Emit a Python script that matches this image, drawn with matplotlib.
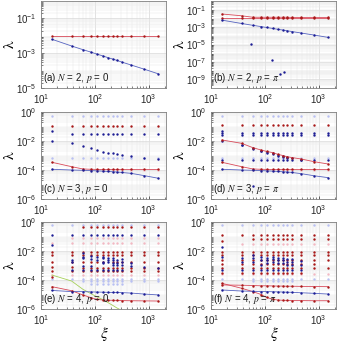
import numpy as np
import matplotlib
matplotlib.use("Agg")
import matplotlib.pyplot as plt
from matplotlib.ticker import LogLocator, NullFormatter

plt.rcParams['font.family'] = ['Liberation Sans', 'DejaVu Sans']
plt.rcParams['mathtext.fontset'] = 'stix'

nan = np.nan
xi = [16, 37, 60, 85, 108, 140, 174, 215, 255, 316, 471, 832, 1514]

# ---------- panel (a) N=2, p=0 ----------
a_red = [1.0e-2, 1.0e-2, 1.0e-2, 1.0e-2, 1.0e-2, 1.0e-2, 1.0e-2, 1.0e-2, 1.0e-2, 1.0e-2, 1.0e-2, 1.0e-2, 1.0e-2]
a_blue = [6.3e-3, 2.6e-3, 1.6e-3, 1.15e-3, 9.0e-4, 7.0e-4, 5.6e-4, 4.6e-4, 3.9e-4, 3.1e-4, 2.1e-4, 1.2e-4, 6.5e-5]

# ---------- panel (b) N=2, p=pi ----------
b_red1 = [3.2e-2, 2.0e-2, 1.35e-2, 1.35e-2, 1.35e-2, 1.35e-2, 1.35e-2, 1.35e-2, 1.35e-2, 1.3e-2, 1.3e-2, 1.3e-2, 1.3e-2]
b_red2 = [1.0e-2, 1.0e-2, 1.0e-2, 1.0e-2, 1.0e-2, 1.0e-2, 1.0e-2, 1.0e-2, 1.0e-2, 1.0e-2, 1.0e-2, 1.0e-2, 1.0e-2]
b_blue = [6.3e-3, 2.6e-3, 1.6e-3, 1.15e-3, 9.0e-4, 7.0e-4, 5.6e-4, 4.6e-4, 3.9e-4, 3.1e-4, 2.1e-4, 1.2e-4, 6.5e-5]
b_out_x = [55, 135, 191, 228]
b_out_y = [1.2e-5, 1.6e-7, 4.0e-9, 7.5e-9]

# ---------- panel (c) N=3, p=0 (log10 values) ----------
c_light = [[-0.28] * 13, [-3.2] * 13]
c_pink = [[nan, nan, -4.02, -4.02, -4.02, -4.02, -4.02, -4.02, -4.02, -4.02, -4.02, -4.02, -4.02]]
c_red = [[-0.94] * 13]
c_blue = [[-1.31, -1.54, -1.54, -1.54, -1.54, -1.54, -1.54, -1.54, -1.54, -1.54, -1.54, -1.54, -1.54],
          [-1.98, -2.16, -2.34, -2.5, -2.62, -2.73, -2.8, -2.85, -2.9, -2.97, -3.03, -3.2, -3.26]]
c_red_line = [-3.47, -3.77, -3.93, -3.95, -3.96, -3.96, -3.96, -3.96, -3.96, -3.96, -3.96, -3.96, -3.96]
c_blue_line = [-3.95, -4.0, -4.02, -4.04, -4.06, -4.08, -4.1, -4.12, -4.14, -4.17, -4.23, -4.39, -4.57]

# ---------- panel (d) N=3, p=pi ----------
d_light = [[-0.28] * 13, [-3.15] * 13]
d_pink = [[nan, nan, -4.02, -4.02, -4.02, -4.02, -4.02, -4.02, -4.02, -4.02, -4.02, -4.02, -4.02]]
d_red = [[-0.93] * 13]
d_blue = [[-1.29, -1.47, -1.47, -1.47, -1.47, -1.47, -1.47, -1.47, -1.47, -1.47, -1.47, -1.47, -1.47],
          [-1.43, -1.61, -1.61, -1.61, -1.61, -1.61, -1.61, -1.61, -1.61, -1.61, -1.61, -1.61, -1.61],
          [-1.61, nan, nan, nan, nan, nan, nan, nan, nan, nan, nan, nan, nan],
          [-2.02, -2.25, -2.5, -2.66, -2.76, -2.85, -2.95, -3.03, -3.1, -3.17, -3.28, nan, nan],
          [nan, -2.3, -2.58, -2.72, -2.83, -2.9, -3.0, -3.08, -3.15, nan, nan, nan, nan],
          [-3.3, -3.3, -3.3, -3.3, -3.3, -3.3, -3.3, -3.3, -3.3, -3.3, -3.3, -3.3, -3.3],
          [nan, nan, -5.1, nan, nan, nan, nan, nan, nan, nan, nan, nan, nan]]
d_red_line_up = [-1.93, -2.16, -2.46, -2.62, -2.72, -2.8, -2.92, -3.0, -3.08, -3.14, -3.24, -3.43, -3.59]
d_red_line = [-3.47, -3.77, -3.93, -3.95, -3.96, -3.96, -3.96, -3.96, -3.96, -3.96, -3.96, -3.96, -3.96]
d_blue_line = [-3.95, -4.0, -4.02, -4.04, -4.06, -4.08, -4.1, -4.12, -4.14, -4.17, -4.25, -4.4, -4.53]

# ---------- panel (e) N=4, p=0 ----------
e_light = [[-0.2] * 13,
           [-3.9] * 13,
           [nan, nan, -4.1, -4.1, -4.1, -4.1, -4.1, -4.1, -4.1, -4.1, -4.1, -4.1, -4.1],
           [nan, nan, nan, -4.3, -4.3, -4.3, -4.3, -4.3, -4.3, -4.3, nan, nan, nan]]
e_pink = [[-1.47] * 13, [-3.66] * 13, [nan, -1.1, -1.1, -1.1, -1.1, -1.1, -1.1, -1.1, -1.1, -1.1, -1.1, -1.1, -1.1]]
e_red = [[nan, nan, -0.32, -0.32, -0.32, -0.32, -0.32, -0.32, -0.32, -0.32, -0.32, -0.32, -0.32],
         [-2.05] * 13,
         [-2.28] * 13,
         [-2.74, -2.74, -2.74, -2.74, -2.74, -2.74, nan, -2.74, -2.74, -2.74, -2.74, -2.74, -2.74],
         [-3.08, -3.08, -3.15, -3.15, -3.15, -3.15, -3.15, -3.15, -3.15, -3.15, -3.15, -3.15, -3.15],
         [-3.4] * 13,
         [-3.77, nan, nan, nan, nan, nan, nan, nan, nan, nan, nan, nan, nan]]
e_blue = [[-0.9] * 13,
          [-1.59, -2.62, -2.16, -2.34, -2.44, -2.39, -2.51, -2.51, -2.62, -2.57, -2.85, -3.08, -3.2],
          [nan, -2.74, -2.39, -2.57, -2.62, -2.51, -2.62, -2.62, -2.8, -2.74, -3.01, nan, nan],
          [nan, nan, -2.51, -3.0, nan, -2.74, -2.78, -2.85, -2.97, -2.97, nan, nan, nan],
          [nan, nan, -3.0, nan, nan, -2.85, nan, -2.97, nan, nan, nan, nan, nan],
          [nan, -3.3, -3.3, -3.3, -3.3, -3.3, -3.3, -3.3, -3.3, -3.3, nan, nan, nan]]
e_green_line = [-3.66, -4.07, -4.64, -4.95, -5.15, -5.35, -5.55, -5.75, -5.92, -6.1, -6.5, -7.0, -7.5]
e_red_line = [-4.46, -4.74, -5.03, -5.22, -5.33, -5.38, -5.4, -5.4, -5.41, -5.42, -5.43, -5.44, -5.45]
e_blue_line = [-4.72, -4.8, -4.8, -4.82, -4.83, -4.84, -4.85, -4.86, -4.86, -4.87, -4.9, -4.97, -5.03]

# ---------- panel (f) N=4, p=pi ----------
f_light = [[-0.2] * 13,
           [-3.9] * 13,
           [nan, nan, -4.05, -4.05, -4.05, -4.05, -4.05, -4.05, -4.05, -4.05, nan, nan, nan]]
f_pink = [[nan, -1.5, -1.5, -1.5, -1.5, -1.5, -1.5, -1.5, -1.5, -1.5, -1.5, -1.5, -1.5],
          [-3.6] * 13]
f_red = [[-0.9] * 13,
         [-1.3, nan, -1.2, -1.2, -1.2, -1.2, -1.2, -1.2, -1.2, -1.2, -1.2, -1.2, -1.2],
         [-2.05] * 13,
         [-2.28] * 13,
         [-2.6] * 13,
         [-2.9, -2.9, -2.9, -2.9, -2.9, -2.9, -2.9, -2.9, -2.9, -2.9, -2.9, -2.9, nan],
         [-3.15] * 13,
         [-3.5, -3.5, -3.5, -3.5, -3.5, -3.5, -3.5, -3.5, -3.5, -3.5, -3.5, nan, nan]]
f_blue = [[-1.7, nan, nan, nan, nan, nan, nan, nan, nan, nan, nan, nan, nan],
          [-2.4, -2.45, -2.3, -2.4, -2.45, -2.4, -2.5, -2.5, -2.55, -2.55, -2.7, nan, nan],
          [nan, -2.75, -2.5, -2.6, -2.65, -2.55, -2.65, -2.65, -2.75, -2.75, -2.95, nan, nan],
          [nan, nan, -2.75, -2.95, -2.8, -2.75, -2.8, -2.85, -2.95, -2.95, nan, nan, nan],
          [-3.3, -3.3, -3.3, -3.3, -3.3, -3.3, -3.3, -3.3, -3.3, -3.3, -3.3, nan, nan]]
f_red_line_up = [-4.34, -4.36, -4.38, -4.4, -4.4, -4.41, -4.42, -4.42, -4.43, -4.43, -4.44, -4.45, -4.46]
f_red_line = [-4.23, -4.57, -4.8, -5.0, -5.2, -5.33, -5.38, -5.4, -5.41, -5.42, -5.42, -5.43, -5.43]
f_blue_line = [-4.69, -4.76, -4.78, -4.8, -4.8, -4.81, -4.82, -4.83, -4.84, -4.85, -4.88, -4.92, -4.97]

labels = ["(a) $N$ = 2, $p$ = 0", "(b) $N$ = 2, $p$ = $\\pi$",
          "(c) $N$ = 3, $p$ = 0", "(d) $N$ = 3, $p$ = $\\pi$",
          "(e) $N$ = 4, $p$ = 0", "(f) $N$ = 4, $p$ = $\\pi$"]

DRED = '#a81818'
DBLUE = '#1c1c94'
LBLUE = '#b8bff2'
PINK = '#f2b8c2'
LRED = '#d84a5a'
LBLU = '#5563c0'
GREEN = '#a6d05a'

fig = plt.figure(figsize=(3.4, 3.45), dpi=100)
W, H = 340.0, 345.0
lefts = [41, 211]
tops = [1, 112, 222]
aw, ah = 125, 87
axes = []
for r in range(3):
    for c in range(2):
        ax = fig.add_axes([lefts[c] / W, 1 - (tops[r] + ah) / H, aw / W, ah / H])
        axes.append(ax)


def dots(ax, rows, color, s=3.0, z=2):
    for row in rows:
        y = np.power(10.0, np.array(row, dtype=float))
        ax.scatter(xi, y, s=s, c=color, linewidths=0, zorder=z)


def line(ax, vals, color, marker=True, z=3, lw=0.6, log=True):
    y = np.power(10.0, np.array(vals, dtype=float)) if log else np.array(vals)
    ax.plot(xi, y, color=color, lw=lw, zorder=z)
    if marker:
        ax.scatter(xi, y, s=3.0, c=DRED if color == LRED else DBLUE, linewidths=0, zorder=z + 0.1)


# (a)
ax = axes[0]
line(ax, a_red, LRED, log=False)
line(ax, a_blue, LBLU, log=False)
# (b)
ax = axes[1]
line(ax, b_red1, LRED, log=False)
line(ax, b_red2, LRED, log=False)
line(ax, b_blue, LBLU, log=False)
ax.scatter(b_out_x, b_out_y, s=3.0, c=DBLUE, linewidths=0, zorder=3)
# (c)
ax = axes[2]
dots(ax, c_light, LBLUE); dots(ax, c_pink, PINK)
dots(ax, c_red, DRED); dots(ax, c_blue, DBLUE)
line(ax, c_red_line, LRED); line(ax, c_blue_line, LBLU)
# (d)
ax = axes[3]
dots(ax, d_light, LBLUE); dots(ax, d_pink, PINK)
dots(ax, d_red, DRED); dots(ax, d_blue, DBLUE)
line(ax, d_red_line_up, LRED); line(ax, d_red_line, LRED); line(ax, d_blue_line, LBLU)
# (e)
ax = axes[4]
dots(ax, e_light, LBLUE); dots(ax, e_pink, PINK)
dots(ax, e_red, DRED); dots(ax, e_blue, DBLUE)
line(ax, e_green_line, GREEN, marker=False)
line(ax, e_red_line, LRED); line(ax, e_blue_line, LBLU)
# (f)
ax = axes[5]
dots(ax, f_light, LBLUE); dots(ax, f_pink, PINK)
dots(ax, f_red, DRED); dots(ax, f_blue, DBLUE)
line(ax, f_red_line_up, LRED); line(ax, f_red_line, LRED); line(ax, f_blue_line, LBLU)

ylims = [(1e-5, 1), (1e-10, 1), (1e-6, 1), (1e-6, 1), (1e-6, 1), (1e-6, 1)]
yticks = [[1e-5, 1e-3, 1e-1], [1e-9, 1e-7, 1e-5, 1e-3, 1e-1],
          [1e-6, 1e-4, 1e-2, 1], [1e-6, 1e-4, 1e-2, 1], [1e-6, 1e-4, 1e-2, 1], [1e-6, 1e-4, 1e-2, 1]]

for i, ax in enumerate(axes):
    ax.set_xscale('log')
    ax.set_yscale('log')
    ax.set_xlim(10, 2100)
    ax.set_ylim(*ylims[i])
    ax.set_xticks([10, 100, 1000])
    ax.set_yticks(yticks[i])
    ax.xaxis.set_minor_locator(LogLocator(base=10, subs=np.arange(2, 10)))
    ax.yaxis.set_minor_locator(LogLocator(base=10, subs=np.arange(2, 10), numticks=30))
    ax.xaxis.set_minor_formatter(NullFormatter())
    ax.yaxis.set_minor_formatter(NullFormatter())
    ax.grid(True, which='major', color='#d2d2d2', lw=0.45, zorder=0)
    ax.grid(True, which='minor', color='#e8e8e8', lw=0.35, zorder=0)
    ax.set_axisbelow(True)
    ax.tick_params(which='both', direction='in', labelsize=7, colors='#262626', pad=3)
    ax.tick_params(which='major', length=2.5, width=0.5)
    ax.tick_params(which='minor', length=1.2, width=0.4)
    for sp in ax.spines.values():
        sp.set_color('#808080')
        sp.set_linewidth(0.6)
    ax.set_ylabel('λ', family='STIXGeneral', fontsize=11, rotation=90)
    ax.yaxis.set_label_coords(-0.195, 0.5)
    ax.text(0.015, 0.035, labels[i], transform=ax.transAxes, fontsize=7,
            ha='left', va='bottom', color='#1a1a1a', zorder=6)
    if i >= 4:
        ax.set_xlabel('ξ', family='STIXGeneral', style='italic', fontsize=11)
        ax.xaxis.set_label_coords(0.5, -0.2)

fig.savefig('out.png', dpi=100)
